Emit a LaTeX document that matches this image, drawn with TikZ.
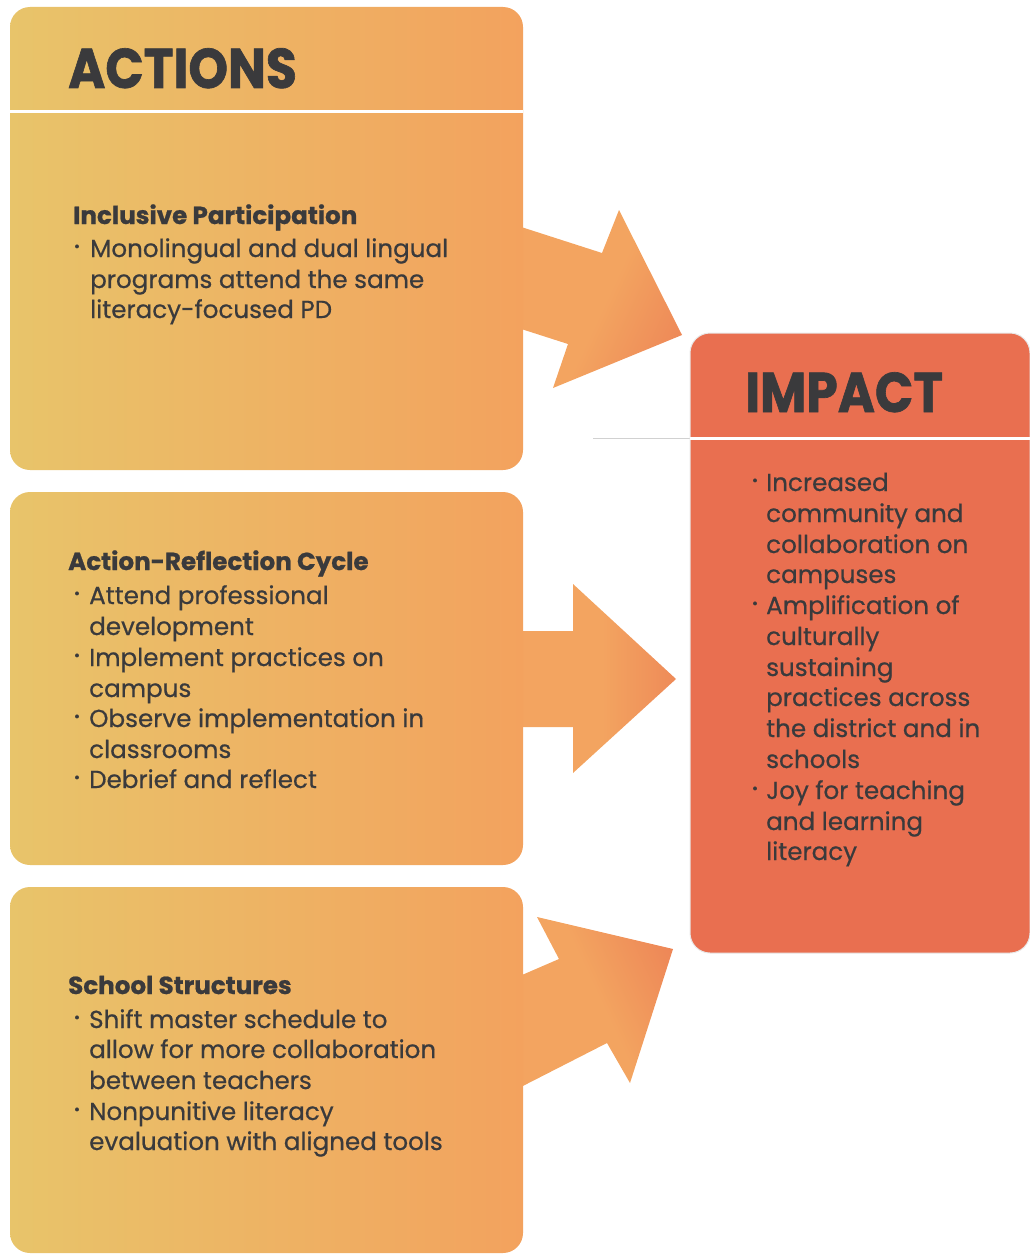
\documentclass[tikz,border=0pt]{standalone}
\usepackage{fontspec}
\setmainfont{Poppins}
\newfontfamily\bodyfont{Poppins}[FakeBold=0.6]
\newfontfamily\subheadfont{Poppins}[BoldFeatures={FakeBold=0.8}]
\newfontfamily\headfont{Poppins}[FakeBold=1.2]
\definecolor{boxL}{RGB}{232,196,106}
\definecolor{boxR}{RGB}{243,162,94}
\definecolor{arrO}{RGB}{243,164,96}
\definecolor{arrR}{RGB}{233,111,80}
\definecolor{impactc}{RGB}{233,111,80}
\definecolor{ink}{RGB}{58,58,60}
\definecolor{edgegray}{RGB}{232,232,232}
\pgfdeclarehorizontalshading{arrowH}{100bp}{color(0bp)=(arrO); color(52bp)=(arrO); color(100bp)=(arrR)}
\begin{document}
\begin{tikzpicture}[x=1pt,y=-1pt,
  bodytxt/.style={anchor=base west,inner sep=0pt,text=ink,font=\fontsize{24.6}{28}\bodyfont},
  headtxt/.style={anchor=base west,inner sep=0pt,text=ink,font=\fontsize{24.6}{28}\subheadfont\bfseries},
  titletxt/.style={anchor=base west,inner sep=0pt,text=ink,font=\fontsize{56}{60}\headfont\bfseries},
  bul/.style={anchor=center,inner sep=0pt,text=ink,font=\fontsize{15}{15}\bodyfont},
  divider/.style={white,line width=3pt}]
\useasboundingbox (0,0) rectangle (1030,1255);
% arrows (behind boxes)
\shade[shading=arrowH,shading angle=-25] (515,225) -- (602,253) -- (619,210) -- (682,335) -- (553,388) -- (568,344) -- (515,327) -- cycle;
\shade[shading=arrowH] (515,631) -- (573,631) -- (573,584) -- (676,679) -- (573,773) -- (573,727) -- (515,727) -- cycle;
\shade[shading=arrowH,shading angle=25] (515,978) -- (559,959) -- (537,917) -- (673,949) -- (630,1083) -- (607,1043) -- (515,1090) -- cycle;
% action boxes
\shade[left color=boxL,right color=boxR,rounded corners=20pt] (10,7) rectangle (523,470);
\shade[left color=boxL,right color=boxR,rounded corners=20pt] (10,492) rectangle (523,865);
\shade[left color=boxL,right color=boxR,rounded corners=20pt] (10,887) rectangle (523,1253);
\draw[divider] (10,111.5) -- (523,111.5);
% impact box
\draw[edgegray!90!black,line width=0.8pt] (593,438) -- (690,438);
\filldraw[fill=impactc,draw=edgegray,line width=1pt,rounded corners=20pt] (690,333) rectangle (1030,953);
\draw[divider] (690,438) -- (1030,438);
% titles
\node[titletxt] (actions) at (68,88) {\scalebox{0.9}[1]{ACTIONS}};
\node[titletxt] (impact) at (745,412) {\scalebox{0.9}[1]{IMPACT}};
% box 1
\node[headtxt] (h1) at (73,224) {Inclusive Participation};
\node[bul] (d1a) at (77,248) {•};
\foreach \t/\yy [count=\i] in {Monolingual and dual lingual/257,programs attend the same/288,literacy-focused PD/318}
  \node[bodytxt] (b1l\i) at (90,\yy) {\t};
% box 2
\node[headtxt] (h2) at (68,570) {Action-Reflection Cycle};
\node[bul] (d2a) at (77,595) {•};
\node[bul] (d2b) at (77,657) {•};
\node[bul] (d2c) at (77,718) {•};
\node[bul] (d2d) at (77,779) {•};
\foreach \t/\yy [count=\i] in {Attend professional/604,development/635,Implement practices on/666,campus/697,Observe implementation in/727,classrooms/758,Debrief and reflect/788}
  \node[bodytxt] (b2l\i) at (89,\yy) {\t};
% box 3
\node[headtxt] (h3) at (68,994) {School Structures};
\node[bul] (d3a) at (77,1019) {•};
\node[bul] (d3b) at (77,1111) {•};
\foreach \t/\yy [count=\i] in {Shift master schedule to/1028,allow for more collaboration/1058,between teachers/1089,Nonpunitive literacy/1120,evaluation with aligned tools/1150}
  \node[bodytxt] (b3l\i) at (89,\yy) {\t};
% impact text
\node[bul] (d4a) at (755,482) {•};
\node[bul] (d4b) at (755,605) {•};
\node[bul] (d4c) at (755,790) {•};
\foreach \t/\yy [count=\i] in {Increased/491,community and/522,collaboration on/553,campuses/583,Amplification of/614,culturally/645,sustaining/676,practices across/706,the district and in/737,schools/768,Joy for teaching/799,and learning/830,literacy/860}
  \node[bodytxt] (b4l\i) at (766,\yy) {\t};
\end{tikzpicture}
\end{document}
